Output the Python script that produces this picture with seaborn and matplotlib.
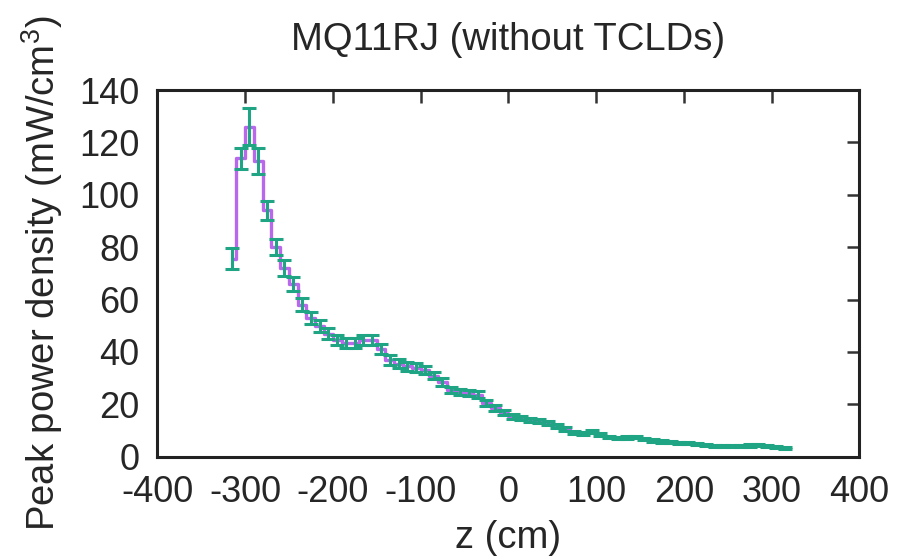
import matplotlib
matplotlib.use("Agg")
import matplotlib.pyplot as plt
import seaborn as sns
import numpy as np
import pandas as pd

# bin centres (cm)
z_cm = [-315, -305, -295, -285, -275, -265, -255, -245, -235, -225,
        -215, -205, -195, -185, -175, -165, -155, -145, -135, -125,
        -115, -105, -95, -85, -75, -65, -55, -45, -35, -25,
        -15, -5, 5, 15, 25, 35, 45, 55, 65, 75,
        85, 95, 105, 115, 125, 135, 145, 155, 165, 175,
        185, 195, 205, 215, 225, 235, 245, 255, 265, 275,
        285, 295, 305, 315]

power = [75.5, 114, 126, 113, 94, 80, 72, 66, 58, 53,
         50, 47, 44.5, 43.5, 43.5, 44.5, 44.5, 41, 37, 35.5,
         34.5, 34, 33, 31, 28.5, 25.5, 24.8, 24.3, 23.7, 20.5,
         18.6, 16.8, 15.4, 14.7, 14.1, 13.5, 13.0, 11.8, 10.5, 9.2,
         9.0, 9.6, 8.5, 7.6, 7.1, 7.3, 7.6, 6.8, 6.2, 5.9,
         5.6, 5.3, 5.1, 4.8, 4.5, 4.2, 4.0, 4.0, 4.1, 4.3,
         4.5, 4.2, 3.8, 3.4]

power_err = [4, 4, 7, 5, 3.5, 3, 3, 2.8, 2.5, 2.3,
             2.2, 2.1, 2.0, 2.0, 2.0, 2.0, 2.0, 1.9, 1.8, 1.7,
             1.6, 1.6, 1.5, 1.5, 1.4, 1.3, 1.2, 1.2, 1.2, 1.1,
             1.0, 0.9, 0.9, 0.8, 0.8, 0.8, 0.8, 0.7, 0.7, 0.6,
             0.6, 0.6, 0.6, 0.5, 0.5, 0.5, 0.5, 0.5, 0.5, 0.5,
             0.4, 0.4, 0.4, 0.4, 0.4, 0.4, 0.4, 0.4, 0.4, 0.4,
             0.4, 0.4, 0.4, 0.4]

x_ticks = [-400, -300, -200, -100, 0, 100, 200, 300, 400]
y_ticks = [0, 20, 40, 60, 80, 100, 120, 140]

df = pd.DataFrame({"z": z_cm, "p": power, "err": power_err})

sns.set_theme(style="white")
plt.rcParams["font.family"] = ["Liberation Sans", "DejaVu Sans"]
plt.rcParams["mathtext.fontset"] = "custom"
plt.rcParams["mathtext.rm"] = "Liberation Sans"
plt.rcParams["axes.unicode_minus"] = False

FS_TICK = 26
FS_LAB = 27.5

fig = plt.figure(figsize=(8.97, 5.58), dpi=100)
ax = fig.add_axes([0.1753, 0.1815, 0.958 - 0.1753, 0.8387 - 0.1815])

line_col = "#b868ea"
err_col = "#1fa584"

sns.lineplot(data=df, x="z", y="p", ax=ax, drawstyle="steps-mid",
             color=line_col, linewidth=2.4, zorder=2, legend=False)
ax.errorbar(df["z"], df["p"], yerr=df["err"], fmt="none", ecolor=err_col,
            elinewidth=2.2, capsize=5, capthick=2.2, zorder=3)

ax.set_xlim(-400, 400)
ax.set_ylim(0, 140)
ax.set_xticks(x_ticks)
ax.set_yticks(y_ticks)
ax.set_xticklabels([str(t) for t in x_ticks])
ax.set_yticklabels([str(t) for t in y_ticks])

ax.tick_params(axis="both", direction="in", length=9, width=1.8,
               labelsize=FS_TICK, top=True, right=True, color="#333333")
ax.tick_params(axis="x", pad=13)
ax.tick_params(axis="y", pad=13)
for s in ax.spines.values():
    s.set_linewidth(2.2)
    s.set_color("#222222")

ax.set_xlabel("z (cm)", fontsize=FS_LAB, labelpad=7)
ax.set_ylabel("Peak power density (mW/cm$^3$)", fontsize=FS_LAB, labelpad=10)
ax.set_title("MQ11RJ (without TCLDs)", fontsize=FS_LAB, pad=29)

fig.savefig("out.png", dpi=100)
